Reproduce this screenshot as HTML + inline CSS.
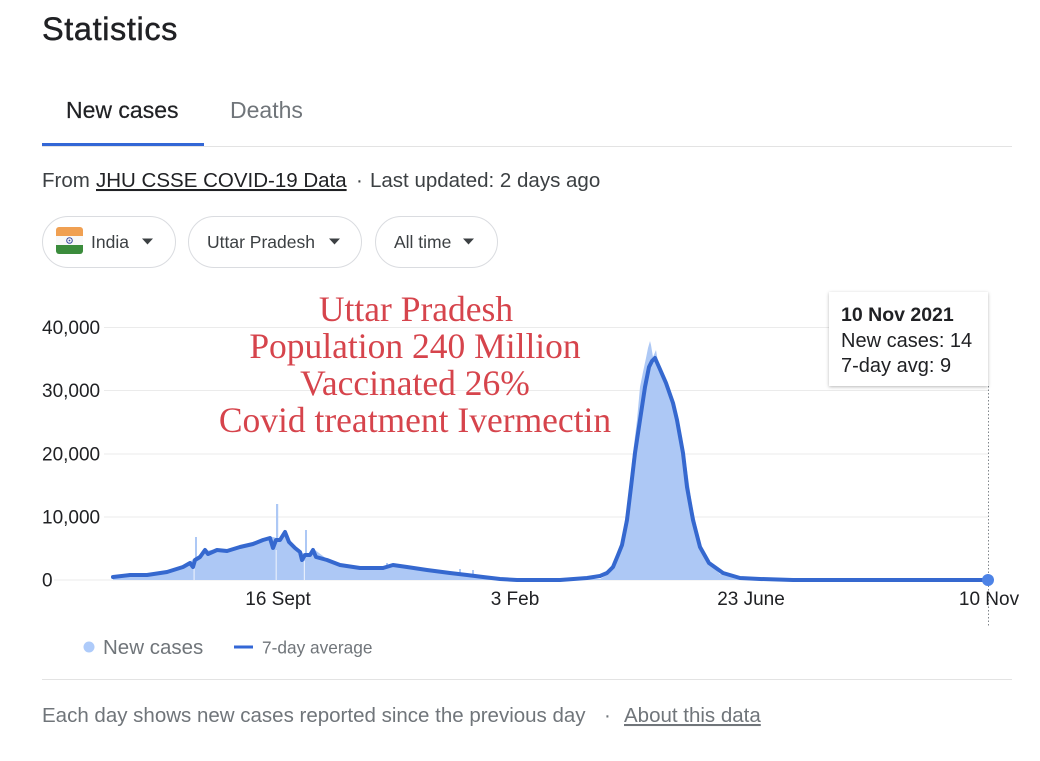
<!DOCTYPE html>
<html>
<head>
<meta charset="utf-8">
<style>
  html,body{margin:0;padding:0;background:#fff;}
  body{width:1040px;height:761px;overflow:hidden;}
  svg{display:block;}
  text{font-family:"Liberation Sans", Arial, sans-serif;}
  .serif{font-family:"Liberation Serif", "Times New Roman", serif;}
</style>
</head>
<body>
<svg width="1040" height="761" viewBox="0 0 1040 761" xmlns="http://www.w3.org/2000/svg">
  <defs>
    <filter id="sh" x="-10%" y="-10%" width="130%" height="140%">
      <feDropShadow dx="0" dy="1" stdDeviation="1.5" flood-color="#000" flood-opacity="0.28"/>
    </filter>
  </defs>

  <!-- Title -->
  <text x="42" y="40" font-size="32.5" letter-spacing="0.6" fill="#202124" stroke="#202124" stroke-width="0.45">Statistics</text>

  <!-- Tabs -->
  <text x="66" y="118" font-size="23" fill="#202124" stroke="#202124" stroke-width="0.2">New cases</text>
  <text x="230" y="118" font-size="23" fill="#70757a">Deaths</text>
  <line x1="42" y1="146.5" x2="1012" y2="146.5" stroke="#e3e3e3" stroke-width="1"/>
  <rect x="42" y="143" width="162" height="3" fill="#3367d6"/>

  <!-- Source line -->
  <text x="42" y="187" font-size="20.5" fill="#3c4043">From</text>
  <text x="96" y="187" font-size="20.5" fill="#202124" style="text-decoration:underline">JHU CSSE COVID-19 Data</text>
  <text x="356" y="187" font-size="20.5" fill="#3c4043">·</text>
  <text x="370" y="187" font-size="20.5" fill="#3c4043">Last updated: 2 days ago</text>

  <!-- Pills -->
  <rect x="42.5" y="216.5" width="133" height="51" rx="25.5" fill="#fff" stroke="#dadce0"/>
  <rect x="188.5" y="216.5" width="173" height="51" rx="25.5" fill="#fff" stroke="#dadce0"/>
  <rect x="375.5" y="216.5" width="122" height="51" rx="25.5" fill="#fff" stroke="#dadce0"/>
  <!-- flag -->
  <g>
    <clipPath id="fc"><rect x="56" y="227" width="27" height="27" rx="3"/></clipPath>
    <g clip-path="url(#fc)">
      <rect x="56" y="227" width="27" height="9" fill="#f0a052"/>
      <rect x="56" y="236" width="27" height="9" fill="#f8f8f8"/>
      <rect x="56" y="245" width="27" height="9" fill="#3b8c3c"/>
    </g>
    <circle cx="69.5" cy="240.5" r="2.8" fill="none" stroke="#3b4aa0" stroke-width="1"/>
    <circle cx="69.5" cy="240.5" r="0.9" fill="#3b4aa0"/>
  </g>
  <text x="91" y="248" font-size="17.5" fill="#3c4043">India</text>
  <polygon points="142,238.5 153,238.5 147.5,244.5" fill="#3c4043"/>
  <text x="207" y="248" font-size="17.5" fill="#3c4043">Uttar Pradesh</text>
  <polygon points="329,238.5 340,238.5 334.5,244.5" fill="#3c4043"/>
  <text x="394" y="248" font-size="17.5" fill="#3c4043">All time</text>
  <polygon points="463,238.5 474,238.5 468.5,244.5" fill="#3c4043"/>

  <!-- Gridlines -->
  <g stroke="#ebebeb" stroke-width="1">
    <line x1="104" y1="327.5" x2="988" y2="327.5"/>
    <line x1="104" y1="390.5" x2="988" y2="390.5"/>
    <line x1="104" y1="454" x2="988" y2="454"/>
    <line x1="104" y1="517" x2="988" y2="517"/>
    <line x1="54" y1="580" x2="988" y2="580"/>
  </g>

  <!-- Y labels -->
  <g font-size="19" fill="#202124">
    <text x="42" y="334">40,000</text>
    <text x="42" y="397">30,000</text>
    <text x="42" y="460.5">20,000</text>
    <text x="42" y="523.5">10,000</text>
    <text x="42" y="586.5">0</text>
  </g>

  <!-- Bars (daily new cases) -->
  <g fill="#adc8f5">
    <path d="M113,580 L113,576 L130,574 L147,574 L167,571 L183,566 L190,562 L193,559 L200,556 L205,551 L217,549 L227,550 L240,546 L253,543 L263,539 L270,537 L273,537 L280,539 L285,533 L290,542 L300,551 L306,555 L315,550 L327,559 L340,564 L360,567 L377,567 L383,567 L393,564 L407,566 L427,569 L450,572 L467,574 L483,576 L500,578 L517,579 L600,579 L607,575 L610,572 L613,567 L618,555 L623,533 L628,500 L633,453 L637,420 L640,387 L643,372 L646,358 L648,348 L650,341 L651,345 L653,357 L656,350 L658,362 L660,367 L664,378 L667,383 L671,393 L675,410 L682,437 L687,470 L692,505 L697,528 L700,545 L709,563 L720,574 L740,578 L760,580 Z"/>
    <rect x="195" y="537" width="2" height="43"/>
    <rect x="276" y="504" width="2.2" height="76"/>
    <rect x="305" y="530" width="2" height="50"/>
    <rect x="459" y="569" width="2" height="11"/>
    <rect x="472" y="570" width="2" height="10"/>
    <rect x="386" y="563" width="2" height="17"/>
  </g>
  <g fill="#e6eefc">
    <rect x="193.5" y="566" width="1.2" height="14"/>
    <rect x="275.6" y="550" width="1.2" height="30"/>
    <rect x="303.8" y="561" width="1.2" height="19"/>
  </g>

  <!-- 7-day average line -->
  <path d="M113,577 L130,575 L147,575 L167,572 L183,567 L190,563 L193,567 L195,560 L200,557 L205,550 L208,554 L217,550 L227,551 L240,547 L253,544 L263,540 L270,538 L273,548 L276,540 L280,540 L285,532 L289,542 L295,548 L300,552 L302,560 L305,555 L310,555 L313,550 L316,557 L327,560 L340,565 L360,568 L377,568 L383,568 L393,565 L407,567 L427,570 L450,573 L467,575 L483,577 L500,579 L517,580 L560,580 L587,578 L600,576 L607,573 L613,567 L618,555 L622,545 L627,520 L631,487 L635,453 L640,420 L645,387 L649,367 L652,361 L655,358 L659,367 L666,383 L673,403 L677,420 L683,453 L687,487 L693,520 L700,547 L709,563 L723,573 L740,578 L760,579 L793,580 L988,580" fill="none" stroke="#3568cf" stroke-width="4" stroke-linejoin="round" stroke-linecap="round"/>

  <!-- Hover line and dot -->
  <line x1="988.5" y1="386" x2="988.5" y2="627" stroke="#80868b" stroke-width="1" stroke-dasharray="1.5,2"/>
  <circle cx="988" cy="580" r="6" fill="#4d83e6"/>

  <!-- X labels -->
  <g font-size="19" fill="#202124" text-anchor="middle">
    <text x="278" y="605">16 Sept</text>
    <text x="515" y="605">3 Feb</text>
    <text x="751" y="605">23 June</text>
    <text x="989" y="605">10 Nov</text>
  </g>

  <!-- Tooltip -->
  <rect x="829" y="292" width="159" height="94" fill="#fff" filter="url(#sh)"/>
  <text x="841" y="321" font-size="19.5" font-weight="bold" fill="#202124">10 Nov 2021</text>
  <text x="841" y="347" font-size="20" fill="#202124">New cases: 14</text>
  <text x="841" y="372" font-size="20" fill="#202124">7-day avg: 9</text>

  <!-- Annotation -->
  <g font-size="35.5" fill="#d6444c" text-anchor="middle">
    <text class="serif" x="416" y="321">Uttar Pradesh</text>
    <text class="serif" x="415" y="358">Population 240 Million</text>
    <text class="serif" x="415" y="395">Vaccinated 26%</text>
    <text class="serif" x="415" y="432">Covid treatment Ivermectin</text>
  </g>

  <!-- Legend -->
  <circle cx="89" cy="647" r="5.5" fill="#aecbfa"/>
  <text x="103" y="654" font-size="20.5" fill="#70757a">New cases</text>
  <rect x="234" y="645.5" width="19" height="3" fill="#3367d6"/>
  <text x="262" y="653.5" font-size="17.3" fill="#70757a">7-day average</text>

  <line x1="42" y1="679.5" x2="1012" y2="679.5" stroke="#e3e3e3" stroke-width="1"/>

  <!-- Footer -->
  <text x="42" y="722" font-size="20.5" fill="#70757a">Each day shows new cases reported since the previous day</text>
  <text x="604" y="722" font-size="20.5" fill="#70757a">·</text>
  <text x="624" y="722" font-size="20.5" fill="#70757a" style="text-decoration:underline">About this data</text>
</svg>
</body>
</html>
